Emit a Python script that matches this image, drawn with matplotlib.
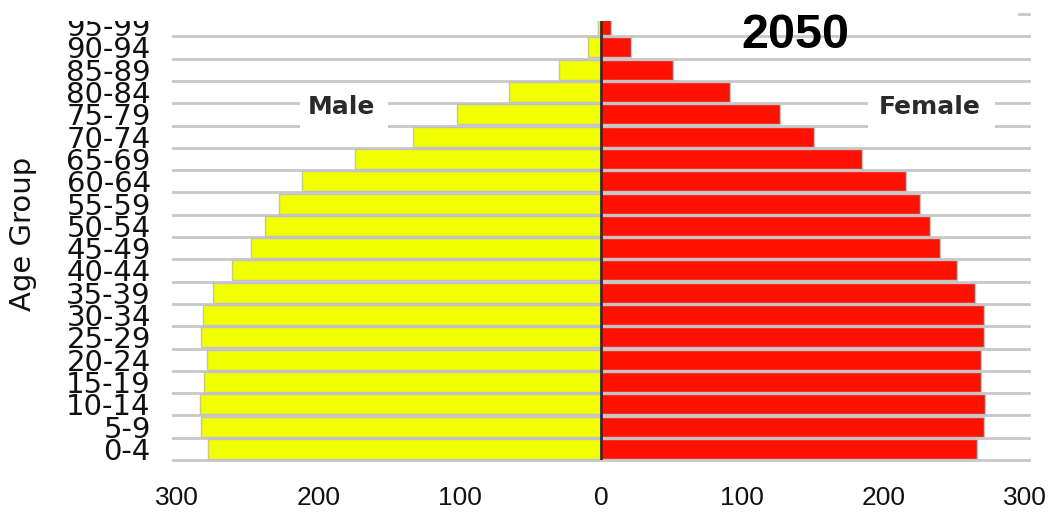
import matplotlib
matplotlib.use("Agg")
import matplotlib.pyplot as plt
from matplotlib.patches import Rectangle
import numpy as np

age_groups = ["0-4", "5-9", "10-14", "15-19", "20-24", "25-29", "30-34", "35-39",
              "40-44", "45-49", "50-54", "55-59", "60-64", "65-69", "70-74",
              "75-79", "80-84", "85-89", "90-94", "95-99"]
male = [278, 283, 284, 281, 279, 283, 282, 275, 261, 248, 238, 228, 212, 174,
        133, 102, 65, 30, 9, 2]
female = [266, 271, 272, 269, 269, 271, 271, 265, 252, 240, 233, 226, 216, 185,
          151, 127, 91, 51, 21, 7]
xticks = [-300, -200, -100, 0, 100, 200, 300]
xticklabels = ["300", "200", "100", "0", "100", "200", "300"]
title = "2050"

W, H = 1059, 512
fig = plt.figure(figsize=(W / 100, H / 100), dpi=100)
left, right, top, bottom = 173, 1029, 14, 460
ax = fig.add_axes([left / W, 1 - bottom / H, (right - left) / W, (bottom - top) / H])

y = np.arange(len(age_groups))
ax.barh(y, [-m for m in male], height=0.9, color="#f2ff00", edgecolor="#c0c0c8",
        linewidth=1, zorder=2)
ax.barh(y, female, height=0.9, color="#ff1100", edgecolor="#c8c0c0",
        linewidth=1, zorder=2)

for b in np.arange(-0.5, len(age_groups), 1.0):
    ax.axhline(b, color="#c8c8c8", linewidth=2, zorder=1, clip_on=False)

ax.axvline(0, color="#303030", linewidth=2, zorder=3)

ax.set_xlim(-303, 303)
ax.set_ylim(-0.5, len(age_groups) - 0.5)
for s in ax.spines.values():
    s.set_visible(False)

ax.set_yticks(y)
ax.set_yticklabels(age_groups, fontsize=21, family="DejaVu Sans", color="#111111")
ax.set_xticks(xticks)
ax.set_xticklabels(xticklabels, fontsize=19, family="Liberation Sans", color="#111111")
ax.tick_params(axis="y", length=0, pad=16)
ax.tick_params(axis="x", length=0, pad=19)

# white boxes behind the series labels (they hide the grid lines)
ax.add_patch(Rectangle((-213, 14.3), 62, 2.0, facecolor="white", edgecolor="none", zorder=1.5))
ax.add_patch(Rectangle((189, 14.3), 90, 2.0, facecolor="white", edgecolor="none", zorder=1.5))
ax.text(-184, 15.0, "Male", fontsize=18, fontweight="bold", family="DejaVu Sans",
        color="#2a2a2a", ha="center", va="baseline", zorder=4)
ax.text(233, 15.0, "Female", fontsize=18, fontweight="bold", family="DejaVu Sans",
        color="#2a2a2a", ha="center", va="baseline", zorder=4)

fig.text(23 / W, 1 - 234 / H, "Age Group", rotation=90, fontsize=21,
         family="DejaVu Sans", color="#111111", ha="center", va="center")

# top strip of the picture is blank in the reference
fig.add_artist(Rectangle((0, 1 - 21 / H), 1018 / W, 21 / H, transform=fig.transFigure,
                         facecolor="white", edgecolor="none", zorder=5))
fig.text(795 / W, 1 - 48 / H, title, fontsize=35, fontweight="bold",
         family="Liberation Sans", color="black", ha="center", va="baseline", zorder=6)

fig.savefig("out.png", dpi=100)
